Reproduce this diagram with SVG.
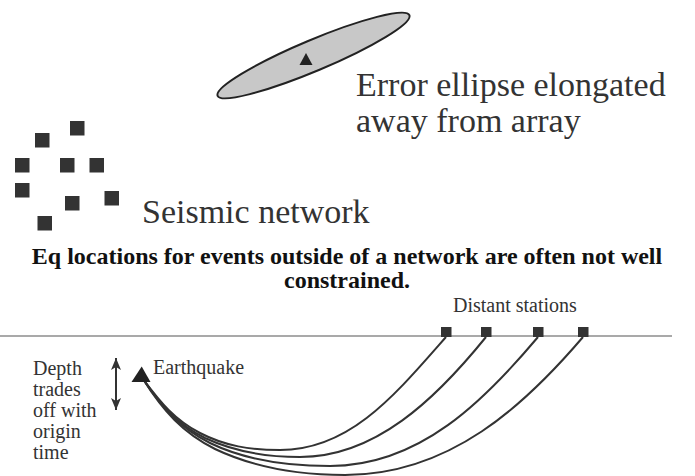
<svg xmlns="http://www.w3.org/2000/svg" width="695" height="476" viewBox="0 0 695 476">
  <style>
    text { font-family: 'Liberation Serif', 'Times New Roman', serif; fill: #333; }
    .big { font-size: 34px; }
    .small { font-size: 20px; }
    .title { font-size: 24px; font-weight: bold; fill: #111; }
    .sq { fill: #333; }
    .ray { fill: none; stroke: #333; stroke-width: 2; }
  </style>
  <defs>
    <marker id="barb" viewBox="0 0 12 10" refX="12" refY="5" markerWidth="12" markerHeight="10" markerUnits="userSpaceOnUse" orient="auto-start-reverse">
      <path d="M0,0 L12,5 L0,10 L3,5 Z" fill="#333"/>
    </marker>
  </defs>
  <rect width="695" height="476" fill="#fff"/>

  <!-- error ellipse with epicentre -->
  <g id="error-ellipse">
    <ellipse cx="313.5" cy="55.5" rx="104" ry="15.5" transform="rotate(-22.8 313.5 55.5)" fill="#c8c8c8" stroke="#222" stroke-width="2"/>
    <polygon points="306,53 299.5,65 312.5,65" fill="#222"/>
  </g>
  <g id="ellipse-label" font-family="Liberation Serif, serif">
    <text class="big" x="356" y="96">Error ellipse elongated</text>
    <text class="big" x="356" y="132">away from array</text>
  </g>

  <!-- seismic network stations -->
  <g id="network">
    <rect class="sq" x="70" y="121" width="14.5" height="14.5"/>
    <rect class="sq" x="35" y="133" width="14.5" height="14.5"/>
    <rect class="sq" x="15" y="158" width="14.5" height="14.5"/>
    <rect class="sq" x="60" y="158" width="14.5" height="14.5"/>
    <rect class="sq" x="89.5" y="158" width="14.5" height="14.5"/>
    <rect class="sq" x="15" y="183" width="14.5" height="14.5"/>
    <rect class="sq" x="65" y="196" width="14.5" height="14.5"/>
    <rect class="sq" x="104.5" y="191" width="14.5" height="14.5"/>
    <rect class="sq" x="37.5" y="216" width="14.5" height="14.5"/>
  </g>
  <g id="network-label">
    <text class="big" x="142" y="223">Seismic network</text>
  </g>

  <g id="caption">
    <text class="title" x="347" y="264" text-anchor="middle">Eq locations for events outside of a network are often not well</text>
    <text class="title" x="347" y="288" text-anchor="middle">constrained.</text>
  </g>

  <!-- cross-section -->
  <g id="surface">
    <line x1="0" y1="336" x2="672" y2="336" stroke="#555" stroke-width="1.2"/>
  </g>

  <g id="connectors">
    <path class="ray" d="M143,379 C161,403 175,420 200,433 C225,446 250,450 280,450 C350,450 395,395 446,337"/>
    <path class="ray" d="M143,379 C161,405 177,424 205,438 C235,452 265,457 300,457 C375,457 435,400 486,337"/>
    <path class="ray" d="M143,379 C162,408 180,428 210,443 C245,460 285,466 330,466 C420,466 485,400 538,337"/>
    <path class="ray" d="M143,379 C163,411 183,433 215,449 C255,468 300,475 345,475 C450,475 525,405 583,337"/>
    <line x1="116" y1="358" x2="116" y2="410" stroke="#333" stroke-width="2" marker-start="url(#barb)" marker-end="url(#barb)"/>
  </g>

  <g id="distant-stations">
    <rect class="sq" x="441" y="327" width="10.5" height="10"/>
    <rect class="sq" x="481" y="327" width="10.5" height="10"/>
    <rect class="sq" x="533" y="327" width="10.5" height="10"/>
    <rect class="sq" x="578" y="327" width="10.5" height="10"/>
    <text class="small" x="453" y="312">Distant stations</text>
  </g>

  <g id="earthquake">
    <polygon points="141.7,366.5 131.5,382 150.5,382" fill="#222"/>
    <text class="small" x="153" y="374">Earthquake</text>
  </g>

  <g id="depth-note">
    <text class="small" x="33" y="375">Depth</text>
    <text class="small" x="33" y="396">trades</text>
    <text class="small" x="33" y="417">off with</text>
    <text class="small" x="33" y="438">origin</text>
    <text class="small" x="33" y="459">time</text>
  </g>
</svg>
